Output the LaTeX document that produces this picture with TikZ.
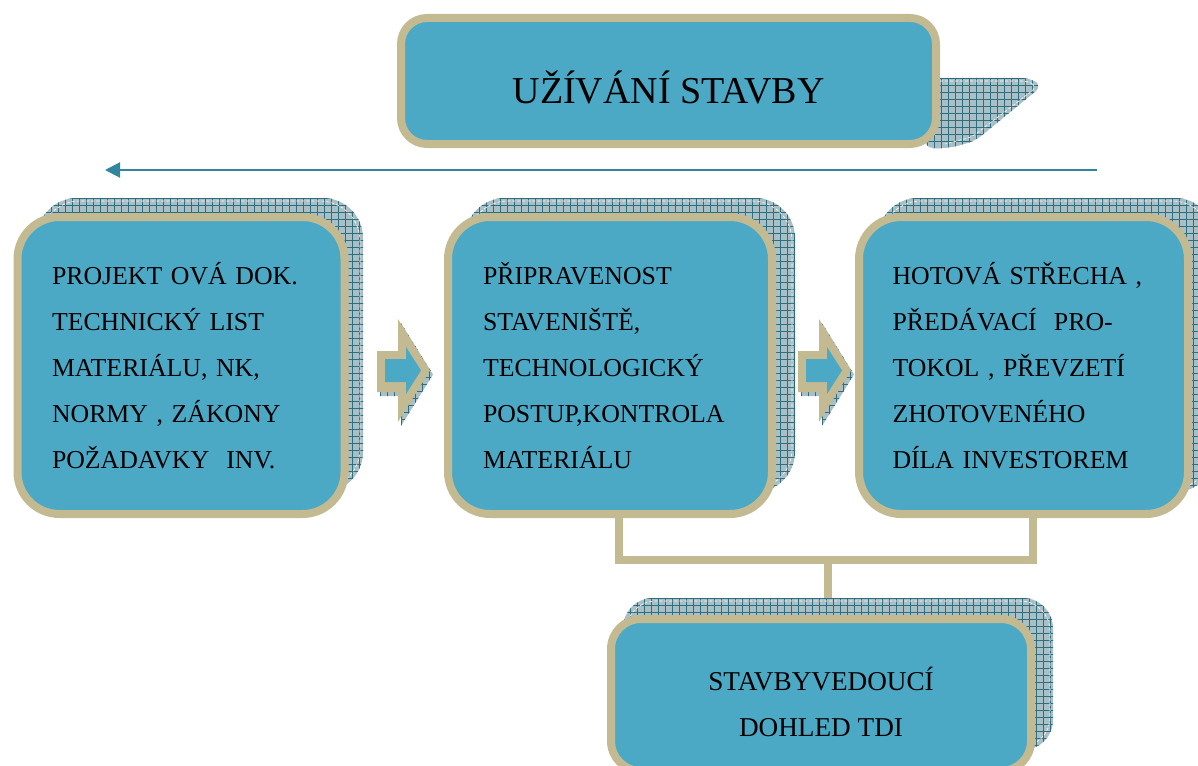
\documentclass[tikz,border=0pt]{standalone}
\usepackage{fontspec}
\setmainfont{Liberation Serif}
\usetikzlibrary{arrows.meta}
\pgfdeclarelayer{connect}
\pgfdeclarelayer{shade}
\pgfsetlayers{connect,shade,main}
\definecolor{boxblue}{HTML}{4BA9C6}
\definecolor{rimtan}{HTML}{C4BA92}
\definecolor{shbg}{HTML}{A9BFC6}
\definecolor{shgrid}{HTML}{2F6E7E}
\definecolor{arrowteal}{HTML}{31859C}
\tikzset{
  mainbox/.style={draw=rimtan, line width=8pt, fill=boxblue, rounded corners=42pt,
    inner sep=0pt, font=\fontsize{25.8}{46}\selectfont, align=left},
  shgridline/.style={shgrid, line width=0.7pt},
  shdash/.style={white, line width=0.6pt, dash pattern=on 3pt off 2pt},
  bracketline/.style={rimtan, line width=8pt},
  flowarrow/.style={arrowteal, line width=2pt, -{Triangle[length=15pt,width=15pt]}},
  blockout/.style={fill=rimtan},
  blockin/.style={fill=boxblue},
}
% hatched grid filling of the current clip region, starting at (#1,#2), size #3 x #4
\newcommand\gridfill[4]{%
  \fill[shbg] (#1,#2) rectangle (#1+#3,#2+#4);
  \foreach \g in {0,7,...,#3} \draw[shgridline] (#1+\g,#2) -- (#1+\g,#2+#4);
  \foreach \g in {0,7,...,#4} \draw[shgridline] (#1,#2+\g) -- (#1+#3,#2+\g);
}
\newcommand\hatchrect[5]{%
  \begin{scope}
    \clip[rounded corners=#5] (#1,#2) rectangle (#3,#4);
    \gridfill{#1}{#2}{450}{320}
  \end{scope}
  \draw[shdash, rounded corners=#5] (#1+3,#2+3) rectangle (#3-3,#4-3);
}
\newcommand\blockarrowshape[1]{%
  \begin{scope}[xshift=#1]
    \begin{scope}[shift={(3,4)}]
      \clip (377,351) -- (398,351) -- (398,319) -- (430,370.5) -- (398,422) -- (398,392) -- (377,392) -- cycle;
      \gridfill{370}{310}{70}{120}
    \end{scope}
    \fill[blockout] (377,351) -- (398,351) -- (398,319) -- (430,370.5) -- (398,422) -- (398,392) -- (377,392) -- cycle;
    \fill[blockin] (385,359) -- (406,359) -- (406,347) -- (421,370.5) -- (406,394) -- (406,382) -- (385,382) -- cycle;
  \end{scope}
}
\begin{document}
\begin{tikzpicture}[x=1pt, y=-1pt]
\useasboundingbox (0,0) rectangle (1198,765);
\clip (0,0) rectangle (1198,765);

% main boxes
\node[mainbox, rounded corners=26pt, minimum width=535pt, minimum height=126pt,
      font=\fontsize{38}{40}\selectfont, text height=44pt, text depth=0pt, align=center]
      (use) at (668.5,81) {UŽÍVÁNÍ STAVBY};
\node[mainbox, minimum width=327pt, minimum height=297pt, text width=258pt]
      (proj) at (181,365.5) {PROJEKT OVÁ DOK.\\TECHNICKÝ LIST\\MATERIÁLU, NK,\\NORMY , ZÁKONY\\POŽADAVKY\ \ INV.};
\node[mainbox, minimum width=324pt, minimum height=297pt, text width=254pt]
      (prep) at (610,365.5) {PŘIPRAVENOST\\STAVENIŠTĚ,\\TECHNOLOGICKÝ\\POSTUP,KONTROLA\\MATERIÁLU};
\node[mainbox, minimum width=329pt, minimum height=297pt, text width=262pt]
      (done) at (1023.5,365.5) {HOTOVÁ STŘECHA ,\\PŘEDÁVACÍ\ \ PRO-\\TOKOL , PŘEVZETÍ\\ZHOTOVENÉHO\\DÍLA INVESTOREM};
\node[mainbox, rounded corners=30pt, minimum width=420pt, minimum height=152pt,
      font=\fontsize{27.2}{46}\selectfont, align=center]
      (lead) at (821,695) {\rule{0pt}{38pt}STAVBYVEDOUCÍ\\DOHLED TDI};

% shadows
\begin{pgfonlayer}{shade}
  \clip (0,0) rectangle (1198,765);
  \hatchrect{37}{198}{363}{492}{40}
  \hatchrect{465}{198}{795}{492}{40}
  \hatchrect{878}{198}{1215}{492}{40}
  \hatchrect{623}{598}{1053}{750}{30}
  \begin{scope}
    \clip[rounded corners=8pt] (925,78) -- (1030,78) -- (1042,86) -- (975,141) -- (950,148) -- (925,148) -- cycle;
    \gridfill{920}{71}{130}{84}
  \end{scope}
  \draw[shdash, rounded corners=6pt] (940,81) -- (1028,81) -- (1037,87) -- (972,137) -- (945,144);
\end{pgfonlayer}

% block arrows
\blockarrowshape{0}
\blockarrowshape{421}

% connectors
\coordinate (fstart) at (1097,170);
\coordinate (fend) at (105,170);
\draw[flowarrow] (fstart) -- (fend);

\begin{pgfonlayer}{connect}
  \fill[white] (0,0) rectangle (1198,765);
  \coordinate (join) at (828,560);
  \draw[bracketline] ([xshift=9pt]prep.south) |- (join) -| ([xshift=9.5pt]done.south);
  \draw[bracketline] (join) -- (lead.north -| join);
\end{pgfonlayer}
\end{tikzpicture}
\end{document}
